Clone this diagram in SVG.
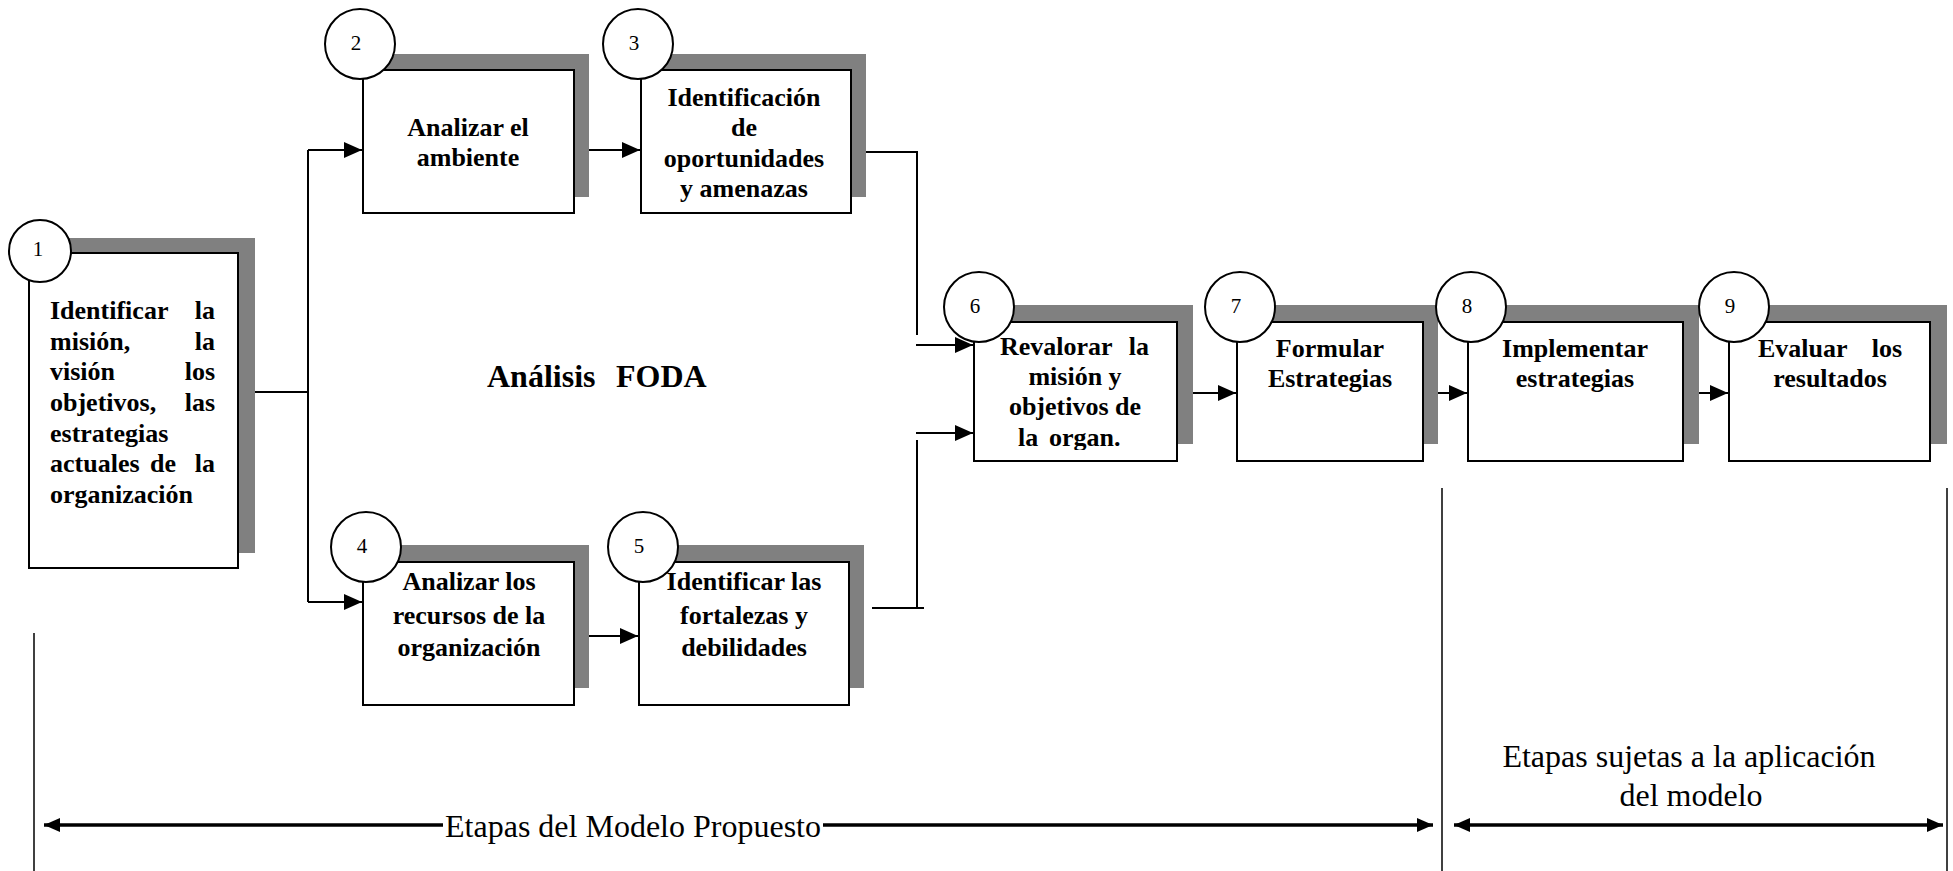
<svg xmlns="http://www.w3.org/2000/svg" width="1953" height="871" viewBox="0 0 1953 871">
  <style>
    .shadow { fill: #808080; stroke: none; }
    .box { fill: #ffffff; stroke: #000000; stroke-width: 2; }
    .badge { fill: #ffffff; stroke: #000000; stroke-width: 2; }
    .num { font-family: "Liberation Serif", "Times New Roman", serif; font-size: 21px; fill: #000; text-anchor: middle; }
    .lbl { font-family: "Liberation Serif", "Times New Roman", serif; font-size: 26px; font-weight: bold; fill: #000; text-anchor: middle; }
    .lbl-l { font-family: "Liberation Serif", "Times New Roman", serif; font-size: 26px; font-weight: bold; fill: #000; }
    .title { font-family: "Liberation Serif", "Times New Roman", serif; font-size: 32px; font-weight: bold; fill: #000; }
    .note { font-family: "Liberation Serif", "Times New Roman", serif; font-size: 32px; fill: #000; text-anchor: middle; }
    .wire { fill: none; stroke: #000; stroke-width: 2; }
    .span { fill: none; stroke: #000; stroke-width: 3.5; }
    .rule { fill: none; stroke: #000; stroke-width: 1.5; }
  </style>
  <defs>
    <marker id="arrow" markerUnits="userSpaceOnUse" markerWidth="20" markerHeight="18" refX="18" refY="8" orient="auto">
      <path d="M0,0 L18,8 L0,16 Z" fill="#000"/>
    </marker>
    <marker id="span-head" markerUnits="userSpaceOnUse" markerWidth="18" markerHeight="16" refX="16" refY="7" orient="auto-start-reverse">
      <path d="M0,0 L16,7 L0,14 Z" fill="#000"/>
    </marker>
    <clipPath id="clip6">
      <rect x="975" y="323" width="201" height="127"/>
    </clipPath>
  </defs>

  <rect x="0" y="0" width="1953" height="871" fill="#ffffff"/>

  <!-- connectors -->
  <g id="connectors">
    <path class="wire" d="M255,392 H308"/>
    <path class="wire" d="M308,150 V602"/>
    <path class="wire" d="M308,150 H362" marker-end="url(#arrow)"/>
    <path class="wire" d="M308,602 H362" marker-end="url(#arrow)"/>
    <path class="wire" d="M589,150 H640" marker-end="url(#arrow)"/>
    <path class="wire" d="M589,636 H638" marker-end="url(#arrow)"/>
    <path class="wire" d="M866,152 H917 V335"/>
    <path class="wire" d="M916,345 H973" marker-end="url(#arrow)"/>
    <path class="wire" d="M916,433 H973" marker-end="url(#arrow)"/>
    <path class="wire" d="M917,440 V608"/>
    <path class="wire" d="M872,608 H924"/>
    <path class="wire" d="M1193,393 H1236" marker-end="url(#arrow)"/>
    <path class="wire" d="M1438,393 H1467" marker-end="url(#arrow)"/>
    <path class="wire" d="M1699,393 H1728" marker-end="url(#arrow)"/>
  </g>

  <!-- stage brackets at the bottom -->
  <g id="stages">
    <path class="rule" d="M34,633 V871"/>
    <path class="rule" d="M1442,488 V871"/>
    <path class="rule" d="M1947,488 V871"/>
    <path class="span" d="M443,825 H44" marker-end="url(#span-head)"/>
    <path class="span" d="M823,825 H1433" marker-end="url(#span-head)"/>
    <path class="span" d="M1454,825 H1943" marker-start="url(#span-head)" marker-end="url(#span-head)"/>
    <text class="note" x="633" y="837">Etapas del Modelo Propuesto</text>
    <text class="note" x="1689" y="767">Etapas sujetas a la aplicación</text>
    <text class="note" x="1691" y="806">del modelo</text>
  </g>

  <text class="title" y="387"><tspan x="487">Análisis</tspan><tspan x="616">FODA</tspan></text>

  <g id="node1">
    <rect class="shadow" x="46" y="238" width="209" height="315"/>
    <rect class="box" x="29" y="253" width="209" height="315"/>
    <circle class="badge" cx="40" cy="251" r="31"/>
    <text class="num" x="38" y="256">1</text>
    <text class="lbl-l" x="50" y="319">Identificar</text>
    <text class="lbl-l" x="215" y="319" text-anchor="end">la</text>
    <text class="lbl-l" x="50" y="350">misión,</text>
    <text class="lbl-l" x="215" y="350" text-anchor="end">la</text>
    <text class="lbl-l" x="50" y="380">visión</text>
    <text class="lbl-l" x="215" y="380" text-anchor="end">los</text>
    <text class="lbl-l" x="50" y="411">objetivos,</text>
    <text class="lbl-l" x="215" y="411" text-anchor="end">las</text>
    <text class="lbl-l" x="50" y="442">estrategias</text>
    <text class="lbl-l" x="50" y="472">actuales</text>
    <text class="lbl-l" x="150" y="472">de</text>
    <text class="lbl-l" x="215" y="472" text-anchor="end">la</text>
    <text class="lbl-l" x="50" y="503">organización</text>
  </g>

  <g id="node2">
    <rect class="shadow" x="378" y="54" width="211" height="143"/>
    <rect class="box" x="363" y="70" width="211" height="143"/>
    <circle class="badge" cx="360" cy="44" r="35"/>
    <text class="num" x="356" y="50">2</text>
    <text class="lbl" x="468" y="136">Analizar el</text>
    <text class="lbl" x="468" y="166">ambiente</text>
  </g>

  <g id="node3">
    <rect class="shadow" x="656" y="54" width="210" height="143"/>
    <rect class="box" x="641" y="70" width="210" height="143"/>
    <circle class="badge" cx="638" cy="44" r="35"/>
    <text class="num" x="634" y="50">3</text>
    <text class="lbl" x="744" y="106">Identificación</text>
    <text class="lbl" x="744" y="136">de</text>
    <text class="lbl" x="744" y="167">oportunidades</text>
    <text class="lbl" x="744" y="197">y amenazas</text>
  </g>

  <g id="node4">
    <rect class="shadow" x="378" y="545" width="211" height="143"/>
    <rect class="box" x="363" y="562" width="211" height="143"/>
    <circle class="badge" cx="366" cy="547" r="35"/>
    <text class="num" x="362" y="553">4</text>
    <text class="lbl" x="469" y="590">Analizar los</text>
    <text class="lbl" x="469" y="624">recursos de la</text>
    <text class="lbl" x="469" y="656">organización</text>
  </g>

  <g id="node5">
    <rect class="shadow" x="654" y="545" width="210" height="143"/>
    <rect class="box" x="639" y="562" width="210" height="143"/>
    <circle class="badge" cx="643" cy="547" r="35"/>
    <text class="num" x="639" y="553">5</text>
    <text class="lbl" x="744" y="590">Identificar las</text>
    <text class="lbl" x="744" y="624">fortalezas y</text>
    <text class="lbl" x="744" y="656">debilidades</text>
  </g>

  <g id="node6">
    <rect class="shadow" x="990" y="305" width="203" height="139"/>
    <rect class="box" x="974" y="322" width="203" height="139"/>
    <circle class="badge" cx="979" cy="307" r="35"/>
    <text class="num" x="975" y="313">6</text>
    <g clip-path="url(#clip6)">
      <text class="lbl-l" x="1000" y="355">Revalorar</text>
      <text class="lbl-l" x="1149" y="355" text-anchor="end">la</text>
      <text class="lbl" x="1075" y="385">misión y</text>
      <text class="lbl" x="1075" y="415">objetivos de</text>
      <text class="lbl-l" x="1018" y="446">la</text>
      <text class="lbl-l" x="1049" y="446">organ.</text>
    </g>
  </g>

  <g id="node7">
    <rect class="shadow" x="1252" y="305" width="186" height="139"/>
    <rect class="box" x="1237" y="322" width="186" height="139"/>
    <circle class="badge" cx="1240" cy="307" r="35"/>
    <text class="num" x="1236" y="313">7</text>
    <text class="lbl" x="1330" y="357">Formular</text>
    <text class="lbl" x="1330" y="387">Estrategias</text>
  </g>

  <g id="node8">
    <rect class="shadow" x="1484" y="305" width="215" height="139"/>
    <rect class="box" x="1468" y="322" width="215" height="139"/>
    <circle class="badge" cx="1471" cy="307" r="35"/>
    <text class="num" x="1467" y="313">8</text>
    <text class="lbl" x="1575" y="357">Implementar</text>
    <text class="lbl" x="1575" y="387">estrategias</text>
  </g>

  <g id="node9">
    <rect class="shadow" x="1746" y="305" width="201" height="139"/>
    <rect class="box" x="1729" y="322" width="201" height="139"/>
    <circle class="badge" cx="1734" cy="307" r="35"/>
    <text class="num" x="1730" y="313">9</text>
    <text class="lbl-l" x="1758" y="357">Evaluar</text>
    <text class="lbl-l" x="1902" y="357" text-anchor="end">los</text>
    <text class="lbl" x="1830" y="387">resultados</text>
  </g>
</svg>
